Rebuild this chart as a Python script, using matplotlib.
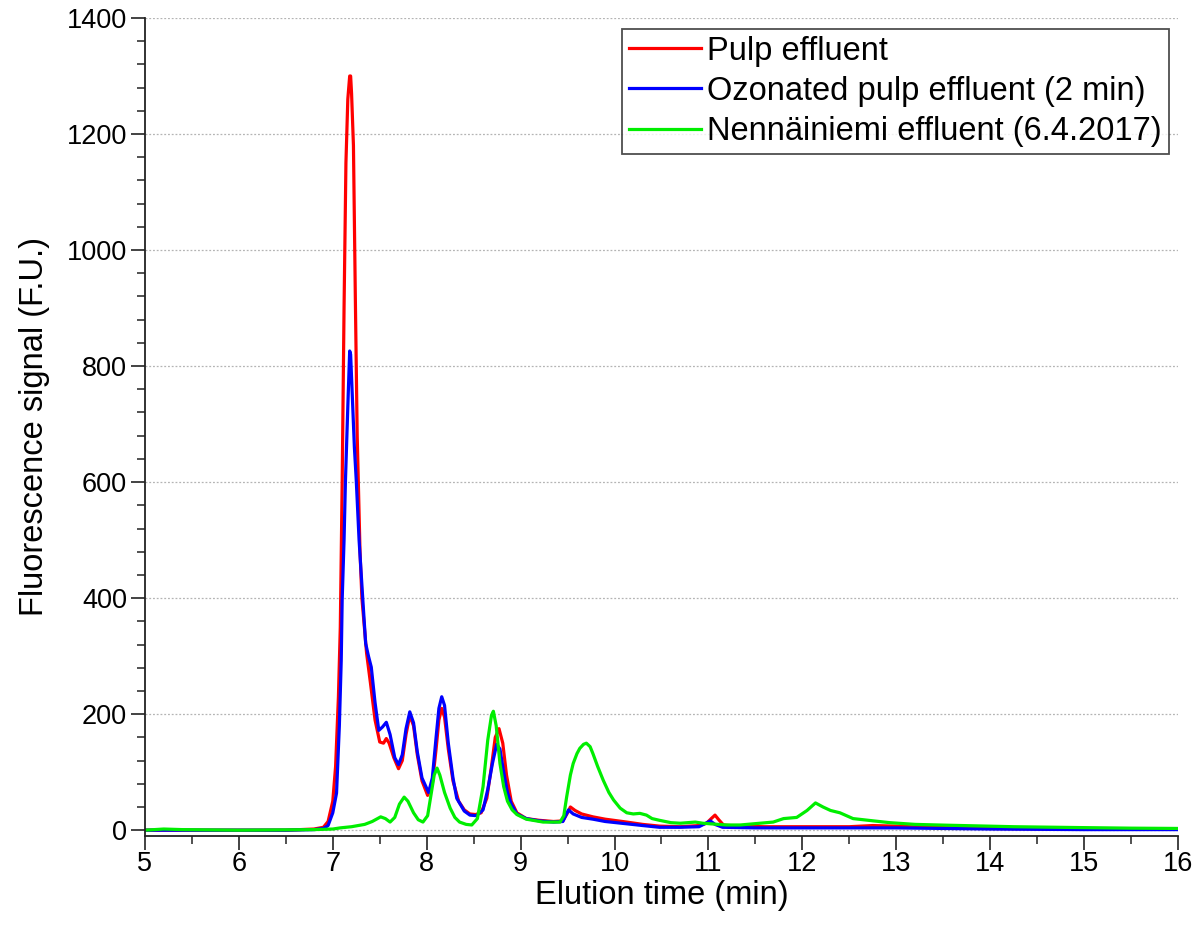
import matplotlib
matplotlib.use("Agg")
import matplotlib.pyplot as plt
from matplotlib.ticker import MultipleLocator

plt.rcParams["font.family"] = ["Liberation Sans", "DejaVu Sans"]

# --- data (elution time in min, signal in F.U.) ---
pulp_t = [5.0, 6.0, 6.5, 6.8, 6.9, 6.95, 7.0, 7.03, 7.06, 7.08, 7.10, 7.12, 7.14, 7.16,
          7.18, 7.19, 7.20, 7.22, 7.23, 7.24, 7.26, 7.29, 7.31, 7.36, 7.40, 7.45, 7.50,
          7.54, 7.57, 7.60, 7.65, 7.70, 7.74, 7.78, 7.82, 7.86, 7.90, 7.95, 8.01, 8.06,
          8.10, 8.13, 8.16, 8.19, 8.23, 8.28, 8.34, 8.40, 8.46, 8.52, 8.58, 8.64, 8.69,
          8.73, 8.77, 8.81, 8.85, 8.90, 8.96, 9.06, 9.2, 9.35, 9.45, 9.50, 9.53, 9.58,
          9.65, 9.77, 9.9, 10.13, 10.3, 10.48, 10.7, 10.9, 10.98, 11.03, 11.07, 11.11,
          11.16, 11.3, 11.6, 12.0, 12.5, 12.75, 13.0, 13.3, 14.0, 15.0, 16.0]
pulp_v = [0, 0, 0, 2, 5, 15, 50, 110, 230, 350, 600, 900, 1150, 1260,
          1300, 1300, 1270, 1180, 1050, 920, 680, 480, 400, 305, 255, 190, 152,
          150, 158, 150, 125, 106, 120, 165, 198, 180, 130, 85, 60, 80,
          140, 190, 210, 195, 140, 85, 50, 35, 28, 27, 30, 55, 110,
          160, 175, 150, 95, 50, 30, 20, 17, 15, 16, 30, 40, 34,
          28, 23, 19, 14, 10, 7, 6, 8, 12, 20, 26, 18,
          9, 7, 6, 6, 6, 8, 7, 5, 3, 2, 2]

ozon_t = [5.0, 6.0, 6.5, 6.8, 6.9, 6.95, 7.0, 7.04, 7.07, 7.09, 7.10, 7.12, 7.135, 7.16,
          7.18, 7.19, 7.21, 7.23, 7.25, 7.28, 7.32, 7.35, 7.38, 7.41, 7.45, 7.49, 7.53,
          7.57, 7.61, 7.66, 7.70, 7.74, 7.78, 7.82, 7.86, 7.90, 7.95, 8.02, 8.06, 8.10,
          8.13, 8.16, 8.19, 8.23, 8.28, 8.32, 8.40, 8.46, 8.53, 8.60, 8.65, 8.70, 8.745,
          8.78, 8.82, 8.86, 8.90, 8.96, 9.06, 9.2, 9.35, 9.45, 9.51, 9.56, 9.65, 9.77,
          9.9, 10.13, 10.3, 10.48, 10.7, 10.9, 11.02, 11.07, 11.15, 11.5, 12.0, 12.5,
          13.0, 14.0, 15.0, 16.0]
ozon_v = [0, 0, 0, 1, 3, 8, 30, 64, 180, 293, 397, 500, 603, 730,
          826, 820, 740, 660, 603, 500, 397, 322, 300, 281, 220, 172, 178,
          186, 165, 125, 113, 130, 175, 204, 185, 135, 90, 65, 90, 160,
          210, 230, 215, 150, 90, 55, 33, 26, 25, 35, 70, 115, 148,
          140, 100, 65, 45, 28, 20, 16, 14, 15, 35, 28, 22, 19,
          15, 11, 8, 5, 5, 6, 16, 10, 5, 4, 4, 4,
          4, 2, 1, 1]

nenn_t = [5.0, 5.2, 5.4, 6.0, 6.8, 7.0, 7.08, 7.2, 7.34, 7.42, 7.51, 7.56, 7.61, 7.66,
          7.71, 7.76, 7.80, 7.86, 7.91, 7.96, 8.01, 8.05, 8.08, 8.11, 8.14, 8.19, 8.25,
          8.30, 8.35, 8.42, 8.48, 8.54, 8.60, 8.65, 8.69, 8.71, 8.74, 8.78, 8.82, 8.86,
          8.91, 8.96, 9.06, 9.24, 9.42, 9.46, 9.49, 9.53, 9.56, 9.60, 9.63, 9.67, 9.70,
          9.74, 9.77, 9.82, 9.88, 9.94, 9.99, 10.06, 10.13, 10.20, 10.27, 10.34, 10.40,
          10.48, 10.60, 10.70, 10.78, 10.86, 10.94, 11.02, 11.19, 11.34, 11.55, 11.69,
          11.80, 11.94, 12.05, 12.14, 12.22, 12.30, 12.40, 12.54, 12.76, 12.93, 13.2,
          13.54, 14.25, 14.96, 15.5, 16.0]
nenn_v = [0, 2, 1, 0, 1, 2, 4, 6, 10, 15, 23, 20, 14, 22,
          45, 57, 50, 30, 18, 14, 25, 65, 95, 107, 95, 65, 38,
          22, 14, 10, 9, 20, 75, 155, 198, 205, 180, 115, 75, 50,
          35, 27, 19, 14, 14, 25, 57, 95, 115, 132, 141, 148, 150,
          144, 132, 110, 86, 65, 52, 38, 30, 28, 29, 26, 20,
          17, 13, 12, 13, 14, 12, 11, 9, 9, 12, 14,
          20, 22, 34, 47, 40, 34, 30, 20, 16, 13, 10,
          8.6, 6, 4.5, 3.5, 3]

series = [
    ("Pulp effluent", pulp_t, pulp_v, "#ff0000"),
    ("Ozonated pulp effluent (2 min)", ozon_t, ozon_v, "#0000ff"),
    ("Nennäiniemi effluent (6.4.2017)", nenn_t, nenn_v, "#00ee00"),
]

fig = plt.figure(figsize=(11.98, 9.26), dpi=100)
ax = fig.add_axes([0.121, 0.0972, 0.8623, 0.8834])

for name, t, v, col in series:
    ax.plot(t, v, color=col, lw=2.3, label=name, solid_joinstyle="round")

ax.set_xlim(5, 16)
ax.set_ylim(-10, 1400)
ax.xaxis.set_major_locator(MultipleLocator(1))
ax.xaxis.set_minor_locator(MultipleLocator(0.5))
ax.yaxis.set_major_locator(MultipleLocator(200))
ax.yaxis.set_minor_locator(MultipleLocator(40))

ax.grid(axis="y", which="major", color="#b4b4b4", lw=0.9, ls=(0, (1.5, 1.5)))
ax.set_axisbelow(True)

for side in ("top", "right"):
    ax.spines[side].set_visible(False)
for side in ("left", "bottom"):
    ax.spines[side].set_linewidth(1.3)
    ax.spines[side].set_color("#222222")

ax.tick_params(which="major", direction="out", length=10, width=1.2, labelsize=19.5,
               color="#222222", pad=3)
ax.tick_params(axis="x", which="major", pad=1)
ax.tick_params(which="minor", direction="out", length=6, width=1.1, color="#222222")

ax.set_xlabel("Elution time (min)", fontsize=23.5, labelpad=2)
ax.set_ylabel("Fluorescence signal (F.U.)", fontsize=23.5, labelpad=12)

leg = ax.legend(loc="upper right", bbox_to_anchor=(0.9915, 0.987), fontsize=23.5,
                frameon=True, fancybox=False, edgecolor="#222222", handlelength=2.2,
                handletextpad=0.2, labelspacing=0.28, borderpad=0.22, borderaxespad=0)
leg.get_frame().set_linewidth(1.3)
for line in leg.get_lines():
    line.set_linewidth(2.3)

fig.savefig("out.png", dpi=100)
